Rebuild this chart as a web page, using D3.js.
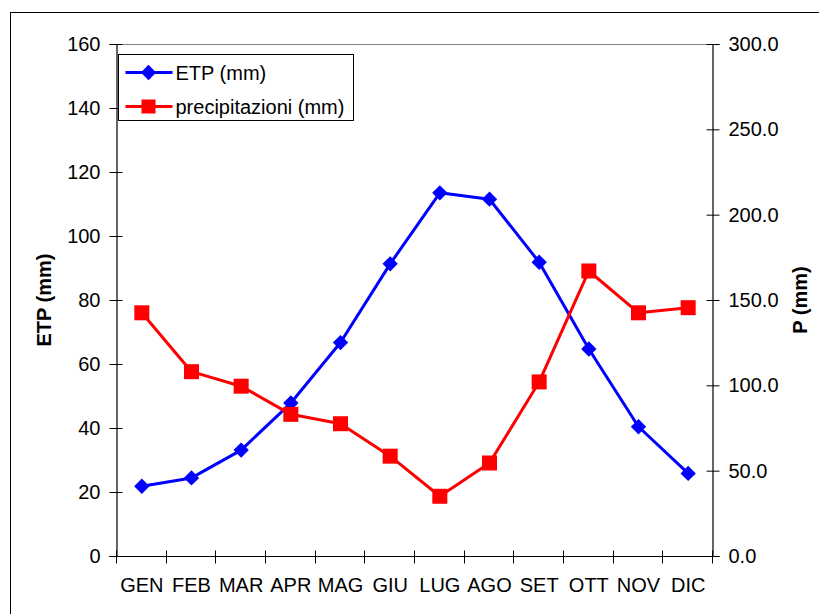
<!DOCTYPE html>
<html lang="it">
<head>
<meta charset="utf-8">
<title>ETP e precipitazioni</title>
<script src="https://d3js.org/d3.v7.min.js"></script>
<style>
  body { margin: 0; background: #fff; }
  svg text { font-family: "Liberation Sans", Arial, sans-serif; fill: #000; }
</style>
</head>
<body>
<script>
// data
var months = ["GEN", "FEB", "MAR", "APR", "MAG", "GIU", "LUG", "AGO", "SET", "OTT", "NOV", "DIC"];
var etp = [21.8, 24.4, 33.1, 47.8, 66.7, 91.3, 113.5, 111.5, 91.8, 64.7, 40.4, 25.8];
var prec = [142.5, 108, 99.5, 83, 77.5, 58.5, 35, 54.5, 102, 167, 142.5, 145.5];
var etpTicks = [0, 20, 40, 60, 80, 100, 120, 140, 160];
var precTicks = [0, 50, 100, 150, 200, 250, 300];

var W = 819, H = 614;
var plot = {left: 117, right: 713, top: 44, bottom: 556};

var svg = d3.select("body").append("svg")
    .attr("width", W)
    .attr("height", H);

// outer chart border (runs off right/bottom like the screenshot)
svg.append("rect")
    .attr("x", 10.5).attr("y", 12.5)
    .attr("width", W + 20).attr("height", H + 20)
    .attr("fill", "none").attr("stroke", "#000").attr("stroke-width", 1);

var x = d3.scaleBand()
    .domain(months)
    .range([plot.left, plot.right])
    .paddingInner(0).paddingOuter(0);

var yL = d3.scaleLinear().domain([0, 160]).range([plot.bottom, plot.top]);
var yR = d3.scaleLinear().domain([0, 300]).range([plot.bottom, plot.top]);

// plot area top border (gray)
svg.append("line")
    .attr("x1", plot.left).attr("x2", plot.right)
    .attr("y1", plot.top + 0.5).attr("y2", plot.top + 0.5)
    .attr("stroke", "#808080");

// left axis
var gL = svg.append("g")
    .attr("transform", "translate(" + (plot.left - 0.5) + ",0)")
    .call(d3.axisLeft(yL).tickValues(etpTicks).tickSize(7).tickPadding(10));
gL.select(".domain").attr("stroke", "#000").attr("stroke-width", 1.2);
gL.selectAll(".tick line").attr("x1", 6).attr("stroke", "#000");
gL.selectAll(".tick text").attr("font-size", "20px").attr("x", -16);

// right axis
var gR = svg.append("g")
    .attr("transform", "translate(" + (plot.right - 0.5) + ",0)")
    .call(d3.axisRight(yR).tickValues(precTicks).tickFormat(d3.format(".1f")).tickSize(7));
gR.select(".domain").attr("stroke", "#000").attr("stroke-width", 1.2);
gR.selectAll(".tick line").attr("x1", -6).attr("stroke", "#000");
gR.selectAll(".tick text").attr("font-size", "20px").attr("x", 16);

// bottom axis: labels at band centres, ticks at band edges
var gB = svg.append("g")
    .attr("transform", "translate(0," + (plot.bottom + 0.5) + ")");
gB.append("line")
    .attr("x1", plot.left - 8).attr("x2", plot.right + 6)
    .attr("stroke", "#000").attr("stroke-width", 1.2);
var edges = months.map(function(m) { return x(m); }).concat([x(months[11]) + x.bandwidth()]);
gB.selectAll(".edge")
    .data(edges)
    .enter().append("line")
    .attr("x1", function(d) { return Math.round(d) - 0.5; })
    .attr("x2", function(d) { return Math.round(d) - 0.5; })
    .attr("y1", -6).attr("y2", 7)
    .attr("stroke", "#000");
gB.selectAll(".mlab")
    .data(months)
    .enter().append("text")
    .attr("x", function(d) { return x(d) + x.bandwidth() / 2; })
    .attr("y", 35)
    .attr("text-anchor", "middle")
    .attr("font-size", "20px")
    .text(function(d) { return d; });

// axis titles
svg.append("text")
    .attr("transform", "translate(51,300) rotate(-90)")
    .attr("text-anchor", "middle")
    .attr("font-size", "20px").attr("font-weight", "bold")
    .text("ETP (mm)");
svg.append("text")
    .attr("transform", "translate(807,300) rotate(-90)")
    .attr("text-anchor", "middle")
    .attr("font-size", "20px").attr("font-weight", "bold")
    .text("P (mm)");

var cx = function(i) { return x(months[i]) + x.bandwidth() / 2; };

var diamond = d3.symbol().type(d3.symbolDiamond2).size(150);

// ETP series
svg.append("path")
    .datum(etp)
    .attr("fill", "none").attr("stroke", "#0000ff").attr("stroke-width", 3)
    .attr("stroke-linejoin", "round")
    .attr("d", d3.line().x(function(d, i) { return cx(i); }).y(function(d) { return yL(d); }));
svg.selectAll(".dia")
    .data(etp)
    .enter().append("path")
    .attr("class", "dia")
    .attr("transform", function(d, i) { return "translate(" + cx(i) + "," + yL(d) + ")"; })
    .attr("d", diamond)
    .attr("fill", "#0000ff");

// precipitation series
svg.append("path")
    .datum(prec)
    .attr("fill", "none").attr("stroke", "#ff0000").attr("stroke-width", 3)
    .attr("stroke-linejoin", "round")
    .attr("d", d3.line().x(function(d, i) { return cx(i); }).y(function(d) { return yR(d); }));
svg.selectAll(".sq")
    .data(prec)
    .enter().append("rect")
    .attr("class", "sq")
    .attr("x", function(d, i) { return cx(i) - 7.5; })
    .attr("y", function(d) { return yR(d) - 7.5; })
    .attr("width", 15).attr("height", 15)
    .attr("fill", "#ff0000");

// legend
var lg = svg.append("g").attr("transform", "translate(118.5,54.5)");
lg.append("rect")
    .attr("width", 235).attr("height", 66)
    .attr("fill", "#fff").attr("stroke", "#000");
var items = [
  {name: "ETP (mm)", color: "#0000ff", mark: "diamond"},
  {name: "precipitazioni (mm)", color: "#ff0000", mark: "square"}
];
items.forEach(function(it, k) {
  var yy = 18 + k * 34;
  lg.append("line")
      .attr("x1", 7).attr("x2", 54).attr("y1", yy).attr("y2", yy)
      .attr("stroke", it.color).attr("stroke-width", 3);
  if (it.mark === "diamond") {
    lg.append("path")
        .attr("transform", "translate(30," + yy + ")")
        .attr("d", diamond).attr("fill", it.color);
  } else {
    lg.append("rect")
        .attr("x", 23).attr("y", yy - 7).attr("width", 14).attr("height", 14)
        .attr("fill", it.color);
  }
  lg.append("text")
      .attr("x", 57).attr("y", yy + 7)
      .attr("font-size", "20px")
      .text(it.name);
});
</script>
</body>
</html>
